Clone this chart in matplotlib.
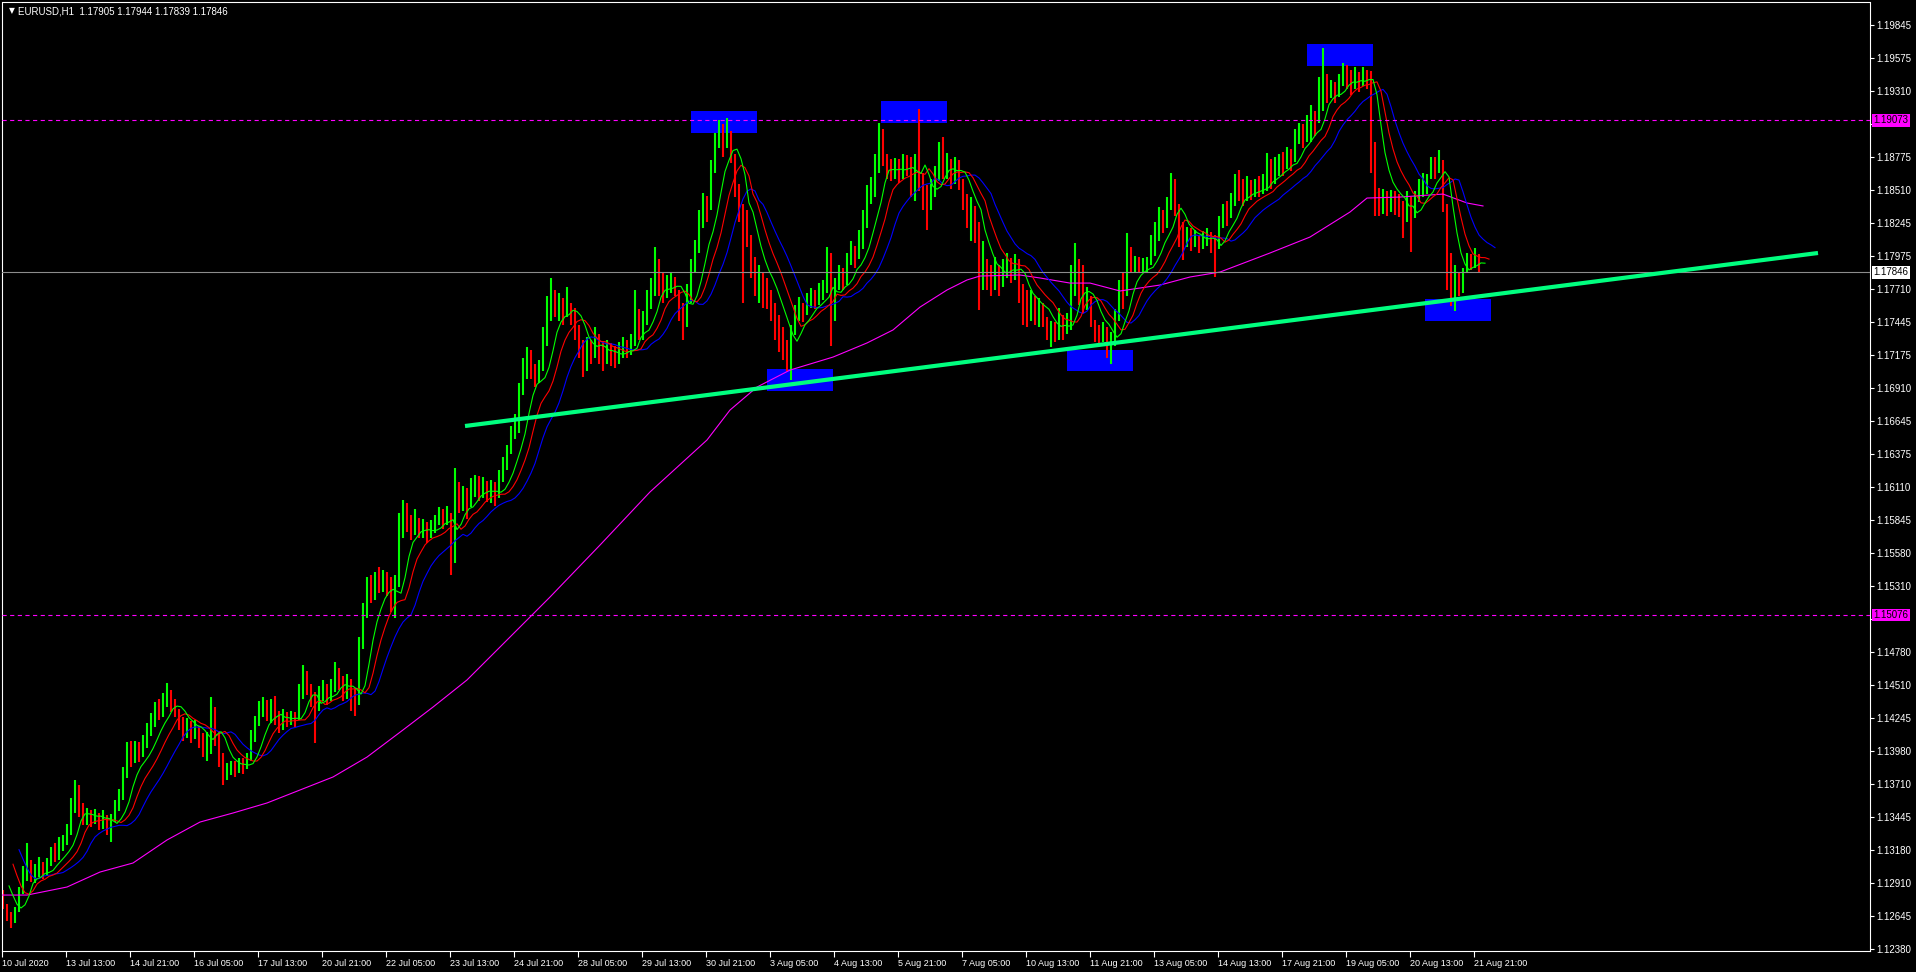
import numpy as np
import matplotlib
matplotlib.use('Agg')
import matplotlib.pyplot as plt
from matplotlib.patches import Rectangle

plt.rcParams['font.family'] = ['Liberation Sans', 'DejaVu Sans']
plt.rcParams['lines.scale_dashes'] = False

# EURUSD H1, 10 Jul - 21 Aug 2020, read off the chart as 2-hour bars
# values are points above 1.10000 (7846 -> 1.17846)
first_open = 2830
close_pts = [
    2720, 2640, 2600, 2700, 2850, 2960, 3000, 2950, 2990, 3040,
    3000, 3080, 3150, 3120, 3200, 3250, 3330, 3520, 3650, 3500,
    3420, 3470, 3420, 3450, 3400, 3430, 3380, 3420, 3520, 3600,
    3780, 3940, 3900, 3980, 3950, 4020, 4130, 4200, 4320, 4280,
    4390, 4430, 4350, 4300, 4200, 4150, 4190, 4120, 4160, 4080,
    4000, 4050, 4300, 4100, 3900, 3760, 3800, 3850, 3830, 3880,
    3860, 3920, 4080, 4200, 4300, 4360, 4280, 4330, 4250, 4180,
    4240, 4220, 4260, 4230, 4450, 4600, 4500, 4400, 4350, 4430,
    4480, 4420, 4500, 4600, 4520, 4450, 4520, 4420, 4380, 4880,
    5100, 5300, 5250, 5350, 5300, 5380, 5320, 5250, 5350, 5800,
    5950, 5800, 5750, 5850, 5760, 5800, 5740, 5780, 5830, 5880,
    5850, 5900, 5550, 6100, 6000, 6050, 5980, 6100, 6150, 6080,
    6130, 6050, 6100, 6050, 6200, 6280, 6400, 6550, 6600, 6900,
    7050, 7200, 7050, 7000, 7080, 7300, 7550, 7650, 7550, 7600,
    7500, 7560, 7500, 7400, 7250, 7150, 7250, 7200, 7300, 7200,
    7150, 7220, 7180, 7150, 7200, 7250, 7220, 7280, 7450, 7350,
    7450, 7600, 7700, 7850, 7750, 7700, 7740, 7780, 7700, 7550,
    7450, 7650, 7900, 8050, 8250, 8400, 8350, 8700, 8900, 8950,
    8850, 8980, 8800, 8550, 8350, 8300, 8150, 7900, 7750, 7800,
    7700, 7650, 7550, 7450, 7350, 7250, 7200, 7350, 7500, 7550,
    7500, 7600, 7650, 7600, 7680, 7720, 7900, 7450, 7700, 7800,
    7750, 7900, 8000, 7950, 8080, 8250, 8450, 8550, 8700, 8950,
    8800, 8700, 8650, 8720, 8680, 8750, 8700, 8650, 8700, 8600,
    8500, 8400, 8500, 8600, 8750, 8680, 8700, 8620, 8680, 8600,
    8450, 8300, 8350, 8200, 7800, 7950, 7800, 7750, 7850, 7780,
    7850, 7900, 7850, 7900, 7700, 7600, 7550, 7600, 7500, 7550,
    7480, 7380, 7400, 7350, 7420, 7380, 7450, 7700, 7850, 7650,
    7600, 7650, 7450, 7350, 7320, 7380, 7250, 7300, 7500, 7700,
    7650, 8050, 7900, 7950, 7880, 7920, 7930, 8050, 8150, 8250,
    8200, 8350, 8450, 8400, 8200, 8100, 8150, 8100, 8130, 8050,
    8120, 8150, 8080, 8050, 8250, 8350, 8300, 8400, 8550, 8500,
    8450, 8550, 8500, 8550, 8520, 8580, 8700, 8600, 8700, 8750,
    8700, 8800, 8750, 8950, 9000, 8950, 9050, 9100, 9050, 9350,
    9450, 9300, 9350, 9280, 9380, 9450, 9400, 9350, 9420, 9380,
    9450, 9400, 8800, 8500, 8400, 8450, 8380, 8440, 8420, 8350,
    8300, 8400, 8300, 8450, 8500, 8550, 8600, 8700, 8650, 8750,
    8400, 7950, 7700, 7800, 7700, 7850, 7950, 7920, 7960, 7846,
]
high_pts = [
    2850, 2740, 2680, 2720, 2880, 3050, 3234, 3100, 3060, 3120,
    3080, 3110, 3200, 3230, 3280, 3300, 3390, 3600, 3743, 3700,
    3560, 3520, 3500, 3510, 3480, 3500, 3460, 3470, 3580, 3670,
    3850, 4050, 4060, 4060, 4050, 4110, 4200, 4284, 4373, 4400,
    4445, 4526, 4470, 4400, 4320, 4250, 4240, 4220, 4230, 4180,
    4120, 4130, 4413, 4330, 4140, 3960, 3880, 3900, 3900, 3920,
    3920, 3960, 4150, 4260, 4380, 4413, 4390, 4400, 4420, 4300,
    4320, 4290, 4300, 4290, 4520, 4670, 4620, 4520, 4450, 4500,
    4550, 4520, 4560, 4700, 4650, 4580, 4600, 4560, 4480, 4900,
    5170, 5380, 5400, 5420, 5465, 5440, 5420, 5380, 5400, 5900,
    6005, 5980, 5880, 5930, 5860, 5850, 5830, 5840, 5880, 5950,
    5930, 5960, 5850, 6263, 6150, 6120, 6100, 6180, 6210, 6200,
    6190, 6160, 6170, 6150, 6250, 6350, 6450, 6600, 6700, 6950,
    7150, 7240, 7220, 7100, 7140, 7400, 7650, 7800, 7700, 7680,
    7640, 7725, 7600, 7560, 7420, 7300, 7320, 7300, 7400, 7350,
    7280, 7300, 7270, 7250, 7280, 7320, 7300, 7350, 7700, 7550,
    7530, 7700, 7800, 8050, 7950, 7850, 7820, 7840, 7810, 7700,
    7600, 7750, 7950, 8106, 8350, 8485, 8460, 8750, 8970, 9075,
    9040, 9090, 8990, 8800, 8560, 8400, 8350, 8100, 7970, 7900,
    7850, 7800, 7700, 7600, 7500, 7400, 7300, 7420, 7580, 7645,
    7600, 7680, 7720, 7700, 7760, 7783, 8050, 8000, 7800, 7900,
    7880, 8000, 8100, 8060, 8187, 8350, 8550, 8615, 8800, 9050,
    9000, 8775, 8760, 8770, 8760, 8800, 8790, 8780, 8800, 9164,
    8650, 8550, 8600, 8700, 8900, 8940, 8810, 8760, 8780, 8750,
    8600, 8480, 8450, 8380, 8250, 8100, 7950, 7900, 7970, 7900,
    7950, 8000, 7960, 7990, 7950, 7750, 7700, 7700, 7650, 7640,
    7600, 7460, 7450, 7440, 7560, 7500, 7520, 7900, 8080, 7950,
    7900, 7726, 7650, 7460, 7420, 7440, 7400, 7360, 7550, 7780,
    7840, 8160, 8050, 7980, 7970, 7960, 7970, 8150, 8250, 8370,
    8350, 8450, 8647, 8600, 8400, 8250, 8210, 8200, 8190, 8150,
    8180, 8200, 8170, 8150, 8300, 8400, 8420, 8485, 8640, 8670,
    8600, 8620, 8590, 8600, 8620, 8640, 8810, 8760, 8780, 8800,
    8820, 8858, 8840, 9000, 9050, 9040, 9120, 9200, 9150, 9420,
    9657, 9450, 9400, 9380, 9450, 9536, 9520, 9480, 9500, 9460,
    9500, 9480, 9470, 8900, 8530, 8520, 8500, 8510, 8500, 8480,
    8420, 8500, 8450, 8500, 8600, 8647, 8640, 8780, 8780, 8833,
    8750, 8200, 8000, 7900, 7850, 7880, 8000, 7990, 8040, 7990,
]
low_pts = [
    2700, 2600, 2547, 2590, 2680, 2820, 2930, 2920, 2910, 2960,
    2940, 2970, 3050, 3080, 3100, 3170, 3220, 3300, 3480, 3440,
    3380, 3380, 3360, 3390, 3340, 3350, 3300, 3242, 3400, 3490,
    3580, 3760, 3850, 3880, 3890, 3930, 4000, 4100, 4170, 4230,
    4250, 4330, 4290, 4250, 4150, 4060, 4080, 4040, 4070, 4000,
    3930, 3900, 3950, 4020, 3850, 3702, 3740, 3780, 3770, 3800,
    3790, 3830, 3900, 4050, 4180, 4250, 4220, 4200, 4190, 4120,
    4150, 4170, 4190, 4170, 4230, 4400, 4430, 4330, 4040, 4300,
    4380, 4350, 4380, 4450, 4470, 4380, 4400, 4300, 4260, 4350,
    4800, 5050, 5170, 5200, 5250, 5260, 5230, 5100, 5050, 5300,
    5700, 5750, 5680, 5720, 5700, 5700, 5660, 5700, 5740, 5800,
    5770, 5800, 5400, 5500, 5900, 5920, 5850, 5950, 6030, 6000,
    6020, 5990, 5980, 5960, 6020, 6150, 6250, 6380, 6500, 6550,
    6850, 6980, 6980, 6920, 6950, 7050, 7250, 7450, 7480, 7450,
    7420, 7480, 7420, 7300, 7150, 7000, 7050, 7100, 7150, 7100,
    7050, 7100, 7090, 7070, 7100, 7150, 7150, 7180, 7250, 7300,
    7300, 7420, 7550, 7650, 7650, 7600, 7640, 7680, 7650, 7450,
    7300, 7400, 7600, 7850, 8000, 8200, 8250, 8350, 8650, 8850,
    8780, 8850, 8730, 8450, 8250, 7600, 8050, 7800, 7650, 7600,
    7560, 7550, 7450, 7300, 7200, 7140, 7050, 6975, 7340, 7450,
    7440, 7500, 7560, 7550, 7580, 7620, 7680, 7250, 7550, 7700,
    7700, 7740, 7900, 7880, 7950, 8030, 8200, 8400, 8450, 8650,
    8700, 8600, 8580, 8600, 8570, 8600, 8620, 8450, 8420, 8500,
    8350, 8190, 8350, 8450, 8580, 8600, 8600, 8520, 8560, 8510,
    8350, 8200, 8100, 8080, 7540, 7700, 7700, 7650, 7700, 7650,
    7730, 7800, 7760, 7780, 7600, 7420, 7400, 7450, 7420, 7400,
    7400, 7300, 7240, 7280, 7300, 7300, 7350, 7380, 7650, 7580,
    7520, 7540, 7400, 7280, 7260, 7280, 7150, 7100, 7250, 7450,
    7550, 7650, 7840, 7850, 7840, 7850, 7850, 7900, 7980, 8100,
    8160, 8200, 8350, 8300, 8050, 7944, 8050, 8020, 8050, 8000,
    8030, 8060, 8000, 7807, 8030, 8200, 8220, 8280, 8380, 8420,
    8380, 8420, 8430, 8450, 8450, 8480, 8500, 8520, 8560, 8620,
    8620, 8680, 8660, 8740, 8880, 8850, 8900, 8900, 8950, 9050,
    9150, 9213, 9250, 9213, 9260, 9350, 9330, 9280, 9330, 9300,
    9350, 9330, 8650, 8300, 8300, 8320, 8300, 8330, 8310, 8290,
    8122, 8250, 8010, 8280, 8410, 8450, 8480, 8615, 8600, 8650,
    8330, 7700, 7570, 7530, 7650, 7680, 7840, 7860, 7880, 7839,
]

# slow moving average (magenta), read at these hours from the start
slow_ma_hours = [0, 12.5, 32.5, 49, 65.5, 82.5, 99, 115.5, 132.5, 149, 165.5,
                 182.5, 200.5, 215.5, 232.5, 249, 274, 299, 324, 352.5, 364,
                 377.5, 394, 415.5, 432.5, 445.5, 459, 472.5, 482.5, 489, 509,
                 519, 534, 544, 559, 569, 579, 594, 609, 634, 654, 674, 682.5,
                 699, 720.5, 732.5, 740.5]
slow_ma_pts = [2813, 2813, 2878, 2999, 3072, 3258, 3403, 3476, 3557, 3662, 3767,
               3928, 4147, 4332, 4551, 4817, 5221, 5641, 6070, 6490, 6732,
               6918, 7055, 7160, 7274, 7379, 7564, 7702, 7783, 7815, 7823,
               7799, 7758, 7758, 7694, 7718, 7742, 7807, 7847, 8001, 8130,
               8332, 8445, 8453, 8477, 8405, 8381]

# alligator values carried in from before the first bar
lips_start, teeth_start, jaw_start = 1.12950, 1.13150, 1.13250

dashed_levels = [1.19073, 1.15076]
bid_price = 1.17846
header = 'EURUSD,H1  1.17905 1.17944 1.17839 1.17846'

trend_hours = [231.5, 908]
trend_prices = [1.16603, 1.18001]

box_hours = [344.5, 439.5, 382.5, 532.5, 652.5, 711.5]
box_low = [1.18970, 1.19051, 1.16886, 1.17047, 1.19512, 1.17451]
box_high = [1.19148, 1.19229, 1.17063, 1.17217, 1.19689, 1.17629]
box_len = 33

ytick_vals = [1.19845, 1.19575, 1.19310, 1.19043, 1.18775, 1.18510, 1.18245,
              1.17975, 1.17710, 1.17445, 1.17175, 1.16910, 1.16645, 1.16375,
              1.16110, 1.15845, 1.15580, 1.15310, 1.15045, 1.14780, 1.14510,
              1.14245, 1.13980, 1.13710, 1.13445, 1.13180, 1.12910, 1.12645,
              1.12380]
# these two sit under the level labels
hidden_ticks = [1.19043, 1.15045]
xtick_labels = ['10 Jul 2020', '13 Jul 13:00', '14 Jul 21:00', '16 Jul 05:00',
                '17 Jul 13:00', '20 Jul 21:00', '22 Jul 05:00', '23 Jul 13:00',
                '24 Jul 21:00', '28 Jul 05:00', '29 Jul 13:00', '30 Jul 21:00',
                '3 Aug 05:00', '4 Aug 13:00', '5 Aug 21:00', '7 Aug 05:00',
                '10 Aug 13:00', '11 Aug 21:00', '13 Aug 05:00', '14 Aug 13:00',
                '17 Aug 21:00', '19 Aug 05:00', '20 Aug 13:00', '21 Aug 21:00']
xtick_hours = [32 * i for i in range(len(xtick_labels))]


def to_price(pts):
    return 1.1 + np.asarray(pts, dtype=float) / 1e5


def smma(values, n, start):
    # hourly SMMA period n, applied over 2-hour bars
    a = 1 - (1 - 1 / n) ** 2
    out = []
    v = start
    for x in values:
        v = v + a * (x - v)
        out.append(v)
    return np.array(out)


close = to_price(close_pts)
high = to_price(high_pts)
low = to_price(low_pts)
opens = np.r_[to_price([first_open]), close[:-1]]
t = 2 * np.arange(len(close)) + 0.5
bar_lo = np.minimum.reduce([low, opens, close])
bar_hi = np.maximum.reduce([high, opens, close])
up = close >= opens

median = (high + low) / 2
lips = smma(median, 5, lips_start)
teeth = smma(median, 8, teeth_start)
jaw = smma(median, 13, jaw_start)

fig = plt.figure(figsize=(19.16, 9.72), dpi=100, facecolor='black')
ax = fig.add_axes([2 / 1916, 21 / 972, 1868 / 1916, 948.5 / 972])
ax.set_facecolor('black')

for t0, lo, hi in zip(box_hours, box_low, box_high):
    ax.add_patch(Rectangle((t0, lo), box_len, hi - lo, facecolor='#0000ff',
                           edgecolor='none', zorder=1))

ax.vlines(t[up], bar_lo[up], bar_hi[up], color='#00ff00', lw=1.5, zorder=2)
ax.vlines(t[~up], bar_lo[~up], bar_hi[~up], color='#ff0000', lw=1.5, zorder=2)

ax.plot(slow_ma_hours, to_price(slow_ma_pts), color='#ff00ff', lw=0.8, zorder=3)
ax.plot(t + 8, jaw, color='#0000ff', lw=0.8, zorder=3)
ax.plot(t + 5, teeth, color='#ff0000', lw=0.8, zorder=3)
ax.plot(t + 3, lips, color='#00ff00', lw=0.8, zorder=3)

for lvl in dashed_levels:
    ax.axhline(lvl, color='#ff00ff', lw=0.8, dashes=(3, 2.5), zorder=4)
ax.axhline(bid_price, color='#8c8c8c', lw=0.8, zorder=4)

ax.plot(trend_hours, trend_prices, color='#00ff7f', lw=3,
        solid_capstyle='butt', zorder=5)

ax.set_xlim(0, 934)
ax.set_ylim(1.12361, 1.20025)

ax.yaxis.tick_right()
ax.set_yticks(ytick_vals, ['' if v in hidden_ticks else f'{v:.5f}' for v in ytick_vals])
ax.set_xticks(xtick_hours, xtick_labels)
for lbl in ax.get_xticklabels():
    lbl.set_horizontalalignment('left')
ax.tick_params(axis='y', colors='white', length=3, width=0.8, pad=1.5, labelsize=7)
ax.tick_params(axis='x', colors='white', length=4, width=0.8, pad=2, labelsize=6.5)
for sp in ax.spines.values():
    sp.set_color('white')
    sp.set_linewidth(0.8)

for lvl in dashed_levels:
    ax.annotate(f'{lvl:.5f}', xy=(1, lvl), xycoords=('axes fraction', 'data'),
                xytext=(2.5, 0), textcoords='offset points', ha='left', va='center',
                fontsize=7, color='black', annotation_clip=False, zorder=10,
                bbox=dict(boxstyle='square,pad=0.15', fc='#ff00ff', ec='none'))
ax.annotate(f'{bid_price:.5f}', xy=(1, bid_price), xycoords=('axes fraction', 'data'),
            xytext=(2.5, 0), textcoords='offset points', ha='left', va='center',
            fontsize=7, color='black', annotation_clip=False, zorder=10,
            bbox=dict(boxstyle='square,pad=0.15', fc='white', ec='none'))

fig.text(9 / 1916, 1 - 11 / 972, '\u25bc', color='white', fontsize=5.5,
         va='center', ha='left', family=['DejaVu Sans'])
fig.text(18 / 1916, 1 - 11 / 972, header, color='white', fontsize=7,
         va='center', ha='left')

fig.savefig('out.png', dpi=100, facecolor='black')
